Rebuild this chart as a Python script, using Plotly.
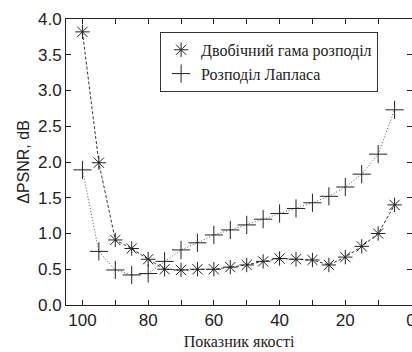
import plotly.graph_objects as go

quality = [100, 95, 90, 85, 80, 75, 70, 65, 60, 55, 50, 45, 40, 35, 30, 25, 20, 15, 10, 5]
gamma_vals = [3.82, 1.99, 0.91, 0.79, 0.64, 0.50, 0.49, 0.50, 0.50, 0.53, 0.56, 0.61, 0.65, 0.64, 0.63, 0.56, 0.67, 0.82, 1.00, 1.40]
laplace_vals = [1.89, 0.75, 0.49, 0.42, 0.44, 0.61, 0.77, 0.87, 0.98, 1.05, 1.12, 1.20, 1.28, 1.35, 1.43, 1.52, 1.65, 1.83, 2.11, 2.73]
series_names = ["Двобічний гама розподіл", "Розподіл Лапласа"]
x_tickvals = [0, 10, 20, 30, 40, 50, 60, 70, 80, 90, 100]
x_ticktext = ["0", "", "20", "", "40", "", "60", "", "80", "", "100"]
x_title = "Показник якості"
y_title = "ΔPSNR, dB"

SERIF = "Times New Roman, Liberation Serif, serif"
SANS = "Liberation Sans"

ast = dict(symbol="asterisk-open", size=12, color="#222", line=dict(width=1, color="#222"))
pls = dict(symbol="cross-thin-open", size=13, color="#222", line=dict(width=1, color="#222"))

fig = go.Figure()
fig.add_trace(go.Scatter(
    x=quality, y=gamma_vals, mode="lines+markers", showlegend=False,
    line=dict(color="#333", width=1, dash="3px,2px"), marker=ast,
))
fig.add_trace(go.Scatter(
    x=quality, y=laplace_vals, mode="lines+markers", showlegend=False,
    line=dict(color="#555", width=1, dash="1px,2px"), marker=pls,
))
fig.add_trace(go.Scatter(x=[None], y=[None], mode="markers", name=series_names[0], marker=ast))
fig.add_trace(go.Scatter(x=[None], y=[None], mode="markers", name=series_names[1], marker=pls))

axis_common = dict(
    showline=True, linecolor="#222", linewidth=1, mirror="ticks",
    ticks="inside", ticklen=5, tickcolor="#222", showgrid=False, zeroline=False,
    tickfont=dict(family=SANS, size=17, color="#222"),
)
fig.update_xaxes(range=[105, -0.3], tickvals=x_tickvals, ticktext=x_ticktext,
                 ticklabeloverflow="allow",
                 title=dict(text=x_title, font=dict(family=SERIF, size=16, color="#222"), standoff=6),
                 **axis_common)
fig.update_yaxes(range=[0, 4], dtick=0.5, tickformat=".1f",
                 title=dict(text=y_title, font=dict(family=SANS, size=16, color="#222"), standoff=4),
                 **axis_common)

fig.update_layout(
    width=412, height=352,
    margin=dict(l=66, r=0, t=19, b=47, autoexpand=False),
    plot_bgcolor="white", paper_bgcolor="white",
    legend=dict(x=0.272, y=0.955, xanchor="left", yanchor="top",
                bgcolor="white", bordercolor="#333", borderwidth=1,
                font=dict(family=SERIF, size=16, color="#222")),
)

fig.write_html("out.html", config={"displayModeBar": False},
               post_script="document.body.style.margin='0';")
